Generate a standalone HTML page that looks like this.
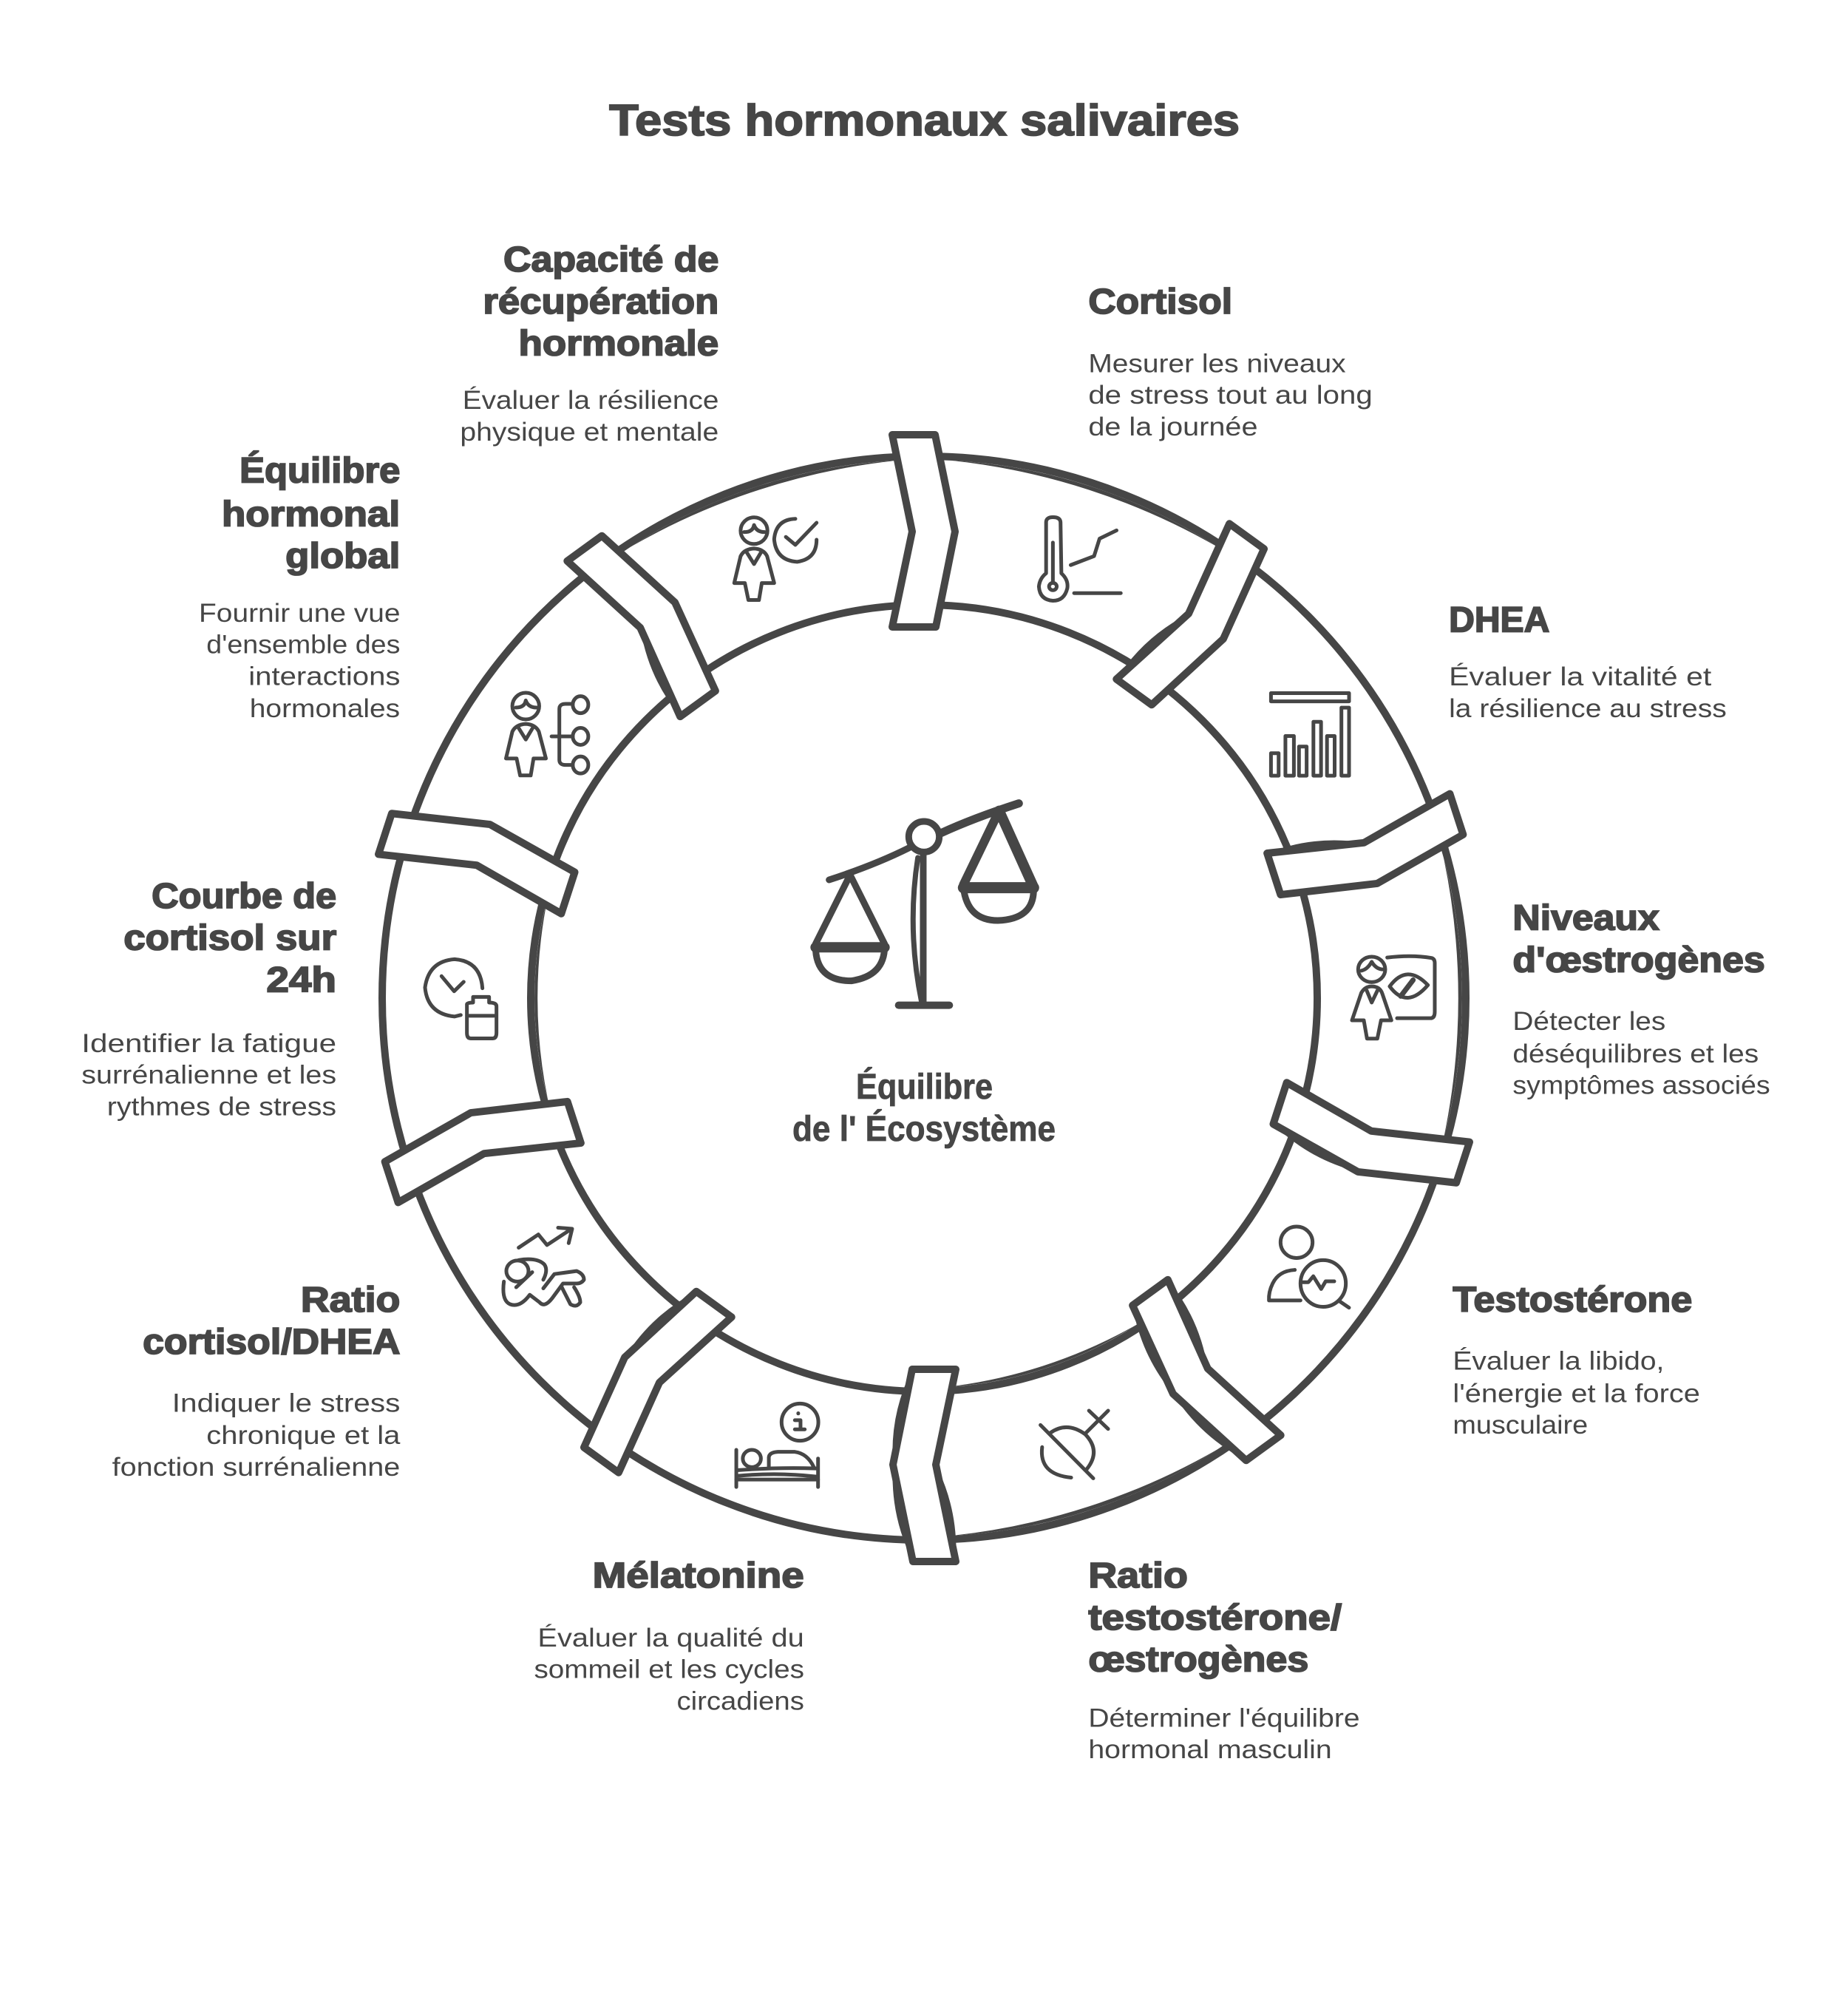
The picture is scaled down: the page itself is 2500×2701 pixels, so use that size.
<!DOCTYPE html>
<html lang="fr"><head><meta charset="utf-8"><title>Tests hormonaux salivaires</title>
<style>
html,body{margin:0;padding:0;background:#fff}
svg{display:block}
.h{font:bold 48px "Liberation Sans",sans-serif;fill:#464646;stroke:#464646;stroke-width:1.8px}
.b{font:35px "Liberation Sans",sans-serif;fill:#464646}
.c{font:bold 48px "Liberation Sans",sans-serif;fill:#464646;stroke:#464646;stroke-width:.8px}
.t{font:bold 60px "Liberation Sans",sans-serif;fill:#464646;stroke:#464646;stroke-width:1.8px}
.i *{vector-effect:non-scaling-stroke;fill:none;stroke:#464646;stroke-width:5;stroke-linecap:round;stroke-linejoin:round}
.w{fill:#464646;stroke:none}
</style></head><body>
<svg width="2500" height="2701" viewBox="0 0 2500 2701" xmlns="http://www.w3.org/2000/svg">
<rect width="2500" height="2701" fill="#fff"/>
<circle cx="1250" cy="1350" r="733" fill="none" stroke="#464646" stroke-width="10"/>
<circle cx="1250" cy="1350" r="532" fill="none" stroke="#464646" stroke-width="10"/>
<defs>
<path id="lo" class="w" d="M1061.6,646.8 A728,728 0 0 1 1438.4,646.8 A916,916 0 0 0 1061.6,646.8 Z"/>
<path id="li" class="w" d="M1113.6,841 A527,527 0 0 1 1386.4,841 A682,682 0 0 0 1113.6,841 Z"/>
<polygon id="s" points="1207,588 1265,588 1292,719 1266,848 1207,848 1234,719" fill="#fff" stroke="#464646" stroke-width="10" stroke-linejoin="round"/>
<path id="fe" class="w" d="M1234,719 Q1202.9,779.9 1207,848 Z"/>
<path id="cd" class="w" d="M1292,719 Q1296.6,787.1 1266,848 Z"/>
<path id="af" class="w" d="M1207,588 Q1203,657.5 1234,719 Z"/>
<path id="bc" class="w" d="M1265,588 Q1296.1,649.9 1292,719 Z"/>
</defs>
<use href="#lo" transform="rotate(18 1250 1350)"/>
<use href="#lo" transform="rotate(90 1250 1350)"/>
<use href="#lo" transform="rotate(162 1250 1350)"/>
<use href="#lo" transform="rotate(342 1250 1350)"/>
<use href="#li" transform="rotate(162 1250 1350)"/>
<use href="#li" transform="rotate(270 1250 1350)"/>
<use href="#fe" transform="rotate(36 1250 1350)"/>
<use href="#fe" transform="rotate(72 1250 1350)"/>
<use href="#cd" transform="rotate(108 1250 1350)"/>
<use href="#bc" transform="rotate(144 1250 1350)"/>
<use href="#cd" transform="rotate(144 1250 1350)"/>
<use href="#fe" transform="rotate(144 1250 1350)"/>
<use href="#bc" transform="rotate(180 1250 1350)"/>
<use href="#cd" transform="rotate(180 1250 1350)"/>
<use href="#af" transform="rotate(180 1250 1350)"/>
<use href="#cd" transform="rotate(216 1250 1350)"/>
<use href="#fe" transform="rotate(324 1250 1350)"/>
<use href="#s"/>
<use href="#s" transform="rotate(36 1250 1350)"/>
<use href="#s" transform="rotate(72 1250 1350)"/>
<use href="#s" transform="rotate(108 1250 1350)"/>
<use href="#s" transform="rotate(144 1250 1350)"/>
<use href="#s" transform="rotate(180 1250 1350)"/>
<use href="#s" transform="rotate(216 1250 1350)"/>
<use href="#s" transform="rotate(252 1250 1350)"/>
<use href="#s" transform="rotate(288 1250 1350)"/>
<use href="#s" transform="rotate(324 1250 1350)"/>

<!-- Thermometer + bars -->
<g class="i" transform="translate(1150,550) scale(.574,.4464)">
<path d="M462,505 V350 Q462,335 478,335 Q495,335 496,350 L498,505 Q515,525 512,550 Q505,588 478,588 Q447,585 445,545 Q447,520 462,505 Z"/>
<path d="M478,412 V530"/><ellipse cx="478" cy="545" rx="9" ry="11"/>
<path d="M520,480 L575,453 L588,400 L628,375"/><path d="M528,565 H638"/>
<rect x="992" y="868" width="184" height="25"/>
<rect x="992" y="1050" width="18" height="68"/><rect x="1026" y="998" width="20" height="120"/><rect x="1058" y="1030" width="18" height="88"/><rect x="1092" y="955" width="18" height="163"/><rect x="1124" y="998" width="18" height="120"/><rect x="1158" y="912" width="18" height="206"/>
</g>
<!-- Estrogen + person -->
<g class="i" transform="translate(1650,1050) scale(.3333,.574)">
<ellipse cx="617" cy="455" rx="55" ry="30"/>
<path d="M575,458 Q600,455 617,437 Q635,455 665,455"/>
<path d="M575,510 Q590,495 617,495 Q650,495 660,512 L697,575 H655 L640,618 H598 L585,575 H537 Z"/>
<path d="M597,505 L617,533 L640,505"/>
<path d="M680,427 Q780,420 860,428 Q873,430 873,440 V555 Q873,570 855,570 H720"/>
<path d="M690,495 Q760,440 845,492 Q760,550 690,495 Z"/><path style="stroke-width:7" d="M735,518 L785,480"/>
<ellipse cx="312" cy="1098" rx="65" ry="37"/>
<path d="M305,1163 Q240,1165 215,1195 Q198,1215 200,1235 H328"/>
<ellipse cx="420" cy="1195" rx="92" ry="55"/>
<path d="M338,1192 H360 L380,1178 L412,1208 L430,1190 H465"/><path d="M487,1237 L525,1252"/>
</g>
<!-- Venus -->
<g class="i" transform="translate(1200,1600) scale(.4464,.352)">
<path d="M465,930 L625,1135"/>
<path d="M495,960 Q545,915 600,965 Q650,1030 605,1100"/>
<path d="M470,1015 Q460,1120 558,1132"/>
<path d="M603,960 L670,875"/><path d="M612,875 L670,945"/>
</g>
<!-- Bed -->
<g class="i" transform="translate(750,1700) scale(.3827,.3346)">
<path d="M643,780 V930"/><path d="M932,815 V930"/><path d="M643,900 H932"/>
<path d="M650,862 Q790,850 925,855"/><path d="M650,885 Q790,870 925,888"/>
<ellipse cx="698" cy="815" rx="32" ry="35"/>
<path d="M758,850 V810 Q760,790 790,788 H850 Q895,795 917,850"/>
<ellipse cx="868" cy="668" rx="65" ry="75"/>
<path d="M862,632 V633"/><path d="M850,660 H870 V697 M850,697 H885"/>
</g>
<!-- Clock + body -->
<g class="i" transform="translate(500,1050) scale(.3333,.51)">
<path d="M458,562 Q450,490 345,485 Q240,490 225,560 Q235,630 345,637 L370,633"/>
<path d="M292,530 L343,570 L382,545"/>
<path d="M395,605 Q395,600 420,600 V585 H485 V600 Q515,600 515,610 V680 Q515,695 500,695 H410 Q395,695 395,680 Z"/><path d="M405,635 H505"/>
<path d="M605,1250 L685,1215 L720,1243 L820,1200"/><path d="M765,1197 L822,1200 L808,1238"/>
<ellipse cx="600" cy="1312" rx="45" ry="28"/>
<path d="M605,1283 Q680,1275 710,1295 Q725,1310 705,1335"/>
<path d="M705,1358 L750,1320 L840,1312 Q870,1320 870,1335 Q860,1345 840,1345 H785 L740,1385 Q710,1410 690,1395 L650,1375 Q610,1410 570,1400 Q535,1390 545,1340"/>
<path d="M780,1355 L815,1400 Q840,1410 855,1395 Q855,1380 830,1355"/><path d="M595,1355 L660,1315"/>
</g>
<!-- Women + check / tree -->
<g class="i" transform="translate(500,580) scale(.478,.3827)">
<ellipse cx="1088" cy="360" rx="38" ry="47"/>
<path d="M1060,365 Q1085,365 1088,340 Q1095,365 1118,365"/>
<path d="M1050,450 Q1060,425 1088,423 Q1115,425 1125,450 L1145,545 H1110 L1102,605 H1072 L1062,545 H1032 Z"/>
<path d="M1065,432 L1088,478 L1110,432"/>
<path d="M1205,318 Q1150,320 1145,390 Q1150,465 1210,470 Q1265,460 1265,392"/><path d="M1178,382 L1205,410 L1265,332"/>
<ellipse cx="442" cy="980" rx="38" ry="47"/>
<path d="M414,985 Q439,985 442,960 Q449,985 472,985"/>
<path d="M404,1070 Q414,1045 442,1043 Q469,1045 479,1070 L499,1165 H464 L456,1225 H426 L416,1165 H386 Z"/>
<path d="M419,1052 L442,1098 L464,1052"/>
<path d="M515,1087 H575"/><path d="M575,972 H555 Q537,972 537,990 V1170 Q537,1188 555,1188 H575"/>
<ellipse cx="597" cy="975" rx="22" ry="30"/><ellipse cx="597" cy="1087" rx="22" ry="30"/><ellipse cx="597" cy="1188" rx="22" ry="30"/>
</g>
<!-- Scales -->
<g class="i" transform="translate(1050,1060) scale(.3333)">
<path style="stroke-width:9" d="M215,390 Q400,330 540,260"/><path style="stroke-width:11" d="M670,200 Q800,140 985,80"/>
<circle style="stroke-width:9" cx="600" cy="215" r="62"/>
<path style="stroke-width:9" d="M597,285 V885"/><path style="stroke-width:7" d="M575,300 Q530,590 590,885"/>
<path style="stroke-width:10" d="M497,899 H703"/>
<path style="stroke-width:9" d="M300,370 L160,650 M300,370 L440,650"/><path style="stroke-width:14" d="M160,664 H440"/>
<path style="stroke-width:9" d="M160,660 Q160,800 305,800 Q440,780 440,660"/>
<path style="stroke-width:12" d="M905,110 L760,410"/><path style="stroke-width:14" d="M905,110 L1045,420"/><path style="stroke-width:15" d="M760,422 H1045"/>
<path style="stroke-width:9" d="M760,420 Q775,555 900,555 Q1045,550 1045,430"/>
</g>

<text class="c" x="1158" y="1486" textLength="185" lengthAdjust="spacingAndGlyphs">Équilibre</text>
<text class="c" x="1072" y="1543" textLength="356" lengthAdjust="spacingAndGlyphs">de l' Écosystème</text>

<g transform="translate(0,-1) scale(.9965,.995)">
<text class="t" x="827" y="185" textLength="856" lengthAdjust="spacingAndGlyphs">Tests hormonaux salivaires</text>

<text class="h" x="1477.5" y="427" textLength="195.5" lengthAdjust="spacingAndGlyphs">Cortisol</text>
<text class="b" x="1477.5" y="507" textLength="349.5" lengthAdjust="spacingAndGlyphs">Mesurer les niveaux</text>
<text class="b" x="1477.5" y="550" textLength="385.8" lengthAdjust="spacingAndGlyphs">de stress tout au long</text>
<text class="b" x="1477.5" y="593" textLength="230" lengthAdjust="spacingAndGlyphs">de la journée</text>

<text class="h" x="1967" y="860" textLength="136.7" lengthAdjust="spacingAndGlyphs">DHEA</text>
<text class="b" x="1967" y="932.5" textLength="356.4" lengthAdjust="spacingAndGlyphs">Évaluer la vitalité et</text>
<text class="b" x="1967" y="976" textLength="377" lengthAdjust="spacingAndGlyphs">la résilience au stress</text>

<text class="h" x="2053.6" y="1265" textLength="199" lengthAdjust="spacingAndGlyphs">Niveaux</text>
<text class="h" x="2053.6" y="1322" textLength="342.6" lengthAdjust="spacingAndGlyphs">d'œstrogènes</text>
<text class="b" x="2053.6" y="1401" textLength="207.6" lengthAdjust="spacingAndGlyphs">Détecter les</text>
<text class="b" x="2053.6" y="1445" textLength="334" lengthAdjust="spacingAndGlyphs">déséquilibres et les</text>
<text class="b" x="2053.6" y="1488" textLength="349.5" lengthAdjust="spacingAndGlyphs">symptômes associés</text>

<text class="h" x="1972.3" y="1784" textLength="325" lengthAdjust="spacingAndGlyphs">Testostérone</text>
<text class="b" x="1972.3" y="1863" textLength="287" lengthAdjust="spacingAndGlyphs">Évaluer la libido,</text>
<text class="b" x="1972.3" y="1907" textLength="335.6" lengthAdjust="spacingAndGlyphs">l'énergie et la force</text>
<text class="b" x="1972.3" y="1950" textLength="183.4" lengthAdjust="spacingAndGlyphs">musculaire</text>

<text class="h" x="1477.5" y="2159" textLength="135" lengthAdjust="spacingAndGlyphs">Ratio</text>
<text class="h" x="1477.5" y="2216" textLength="344" lengthAdjust="spacingAndGlyphs">testostérone/</text>
<text class="h" x="1477.5" y="2273" textLength="299" lengthAdjust="spacingAndGlyphs">œstrogènes</text>
<text class="b" x="1477.5" y="2348" textLength="368.5" lengthAdjust="spacingAndGlyphs">Déterminer l'équilibre</text>
<text class="b" x="1477.5" y="2391" textLength="330.5" lengthAdjust="spacingAndGlyphs">hormonal masculin</text>

<text class="h" x="804.5" y="2159" textLength="287" lengthAdjust="spacingAndGlyphs">Mélatonine</text>
<text class="b" x="730" y="2239" textLength="361.6" lengthAdjust="spacingAndGlyphs">Évaluer la qualité du</text>
<text class="b" x="725" y="2282" textLength="366.8" lengthAdjust="spacingAndGlyphs">sommeil et les cycles</text>
<text class="b" x="918.7" y="2325" textLength="173" lengthAdjust="spacingAndGlyphs">circadiens</text>

<text class="h" x="408.3" y="1784" textLength="135" lengthAdjust="spacingAndGlyphs">Ratio</text>
<text class="h" x="193.8" y="1841" textLength="349.5" lengthAdjust="spacingAndGlyphs">cortisol/DHEA</text>
<text class="b" x="233.6" y="1920" textLength="309.7" lengthAdjust="spacingAndGlyphs">Indiquer le stress</text>
<text class="b" x="280.3" y="1964" textLength="263" lengthAdjust="spacingAndGlyphs">chronique et la</text>
<text class="b" x="152.2" y="2007" textLength="391" lengthAdjust="spacingAndGlyphs">fonction surrénalienne</text>

<text class="h" x="205.9" y="1235" textLength="250.9" lengthAdjust="spacingAndGlyphs">Courbe de</text>
<text class="h" x="167.8" y="1292" textLength="289" lengthAdjust="spacingAndGlyphs">cortisol sur</text>
<text class="h" x="361.6" y="1349" textLength="95" lengthAdjust="spacingAndGlyphs">24h</text>
<text class="b" x="110.7" y="1431" textLength="346" lengthAdjust="spacingAndGlyphs">Identifier la fatigue</text>
<text class="b" x="110.7" y="1474" textLength="346" lengthAdjust="spacingAndGlyphs">surrénalienne et les</text>
<text class="b" x="145.3" y="1517" textLength="311.4" lengthAdjust="spacingAndGlyphs">rythmes de stress</text>

<text class="h" x="325.3" y="657" textLength="218" lengthAdjust="spacingAndGlyphs">Équilibre</text>
<text class="h" x="301" y="716" textLength="242" lengthAdjust="spacingAndGlyphs">hormonal</text>
<text class="h" x="387.5" y="773" textLength="155.7" lengthAdjust="spacingAndGlyphs">global</text>
<text class="b" x="270" y="846" textLength="273.4" lengthAdjust="spacingAndGlyphs">Fournir une vue</text>
<text class="b" x="280.3" y="889" textLength="263" lengthAdjust="spacingAndGlyphs">d'ensemble des</text>
<text class="b" x="337.4" y="932" textLength="206" lengthAdjust="spacingAndGlyphs">interactions</text>
<text class="b" x="339" y="976" textLength="204" lengthAdjust="spacingAndGlyphs">hormonales</text>

<text class="h" x="683.4" y="370" textLength="292.4" lengthAdjust="spacingAndGlyphs">Capacité de</text>
<text class="h" x="655.7" y="427" textLength="320" lengthAdjust="spacingAndGlyphs">récupération</text>
<text class="h" x="704" y="484" textLength="271.6" lengthAdjust="spacingAndGlyphs">hormonale</text>
<text class="b" x="628" y="557" textLength="347.8" lengthAdjust="spacingAndGlyphs">Évaluer la résilience</text>
<text class="b" x="624.6" y="600" textLength="351" lengthAdjust="spacingAndGlyphs">physique et mentale</text>
</g>
</svg>
</body></html>
